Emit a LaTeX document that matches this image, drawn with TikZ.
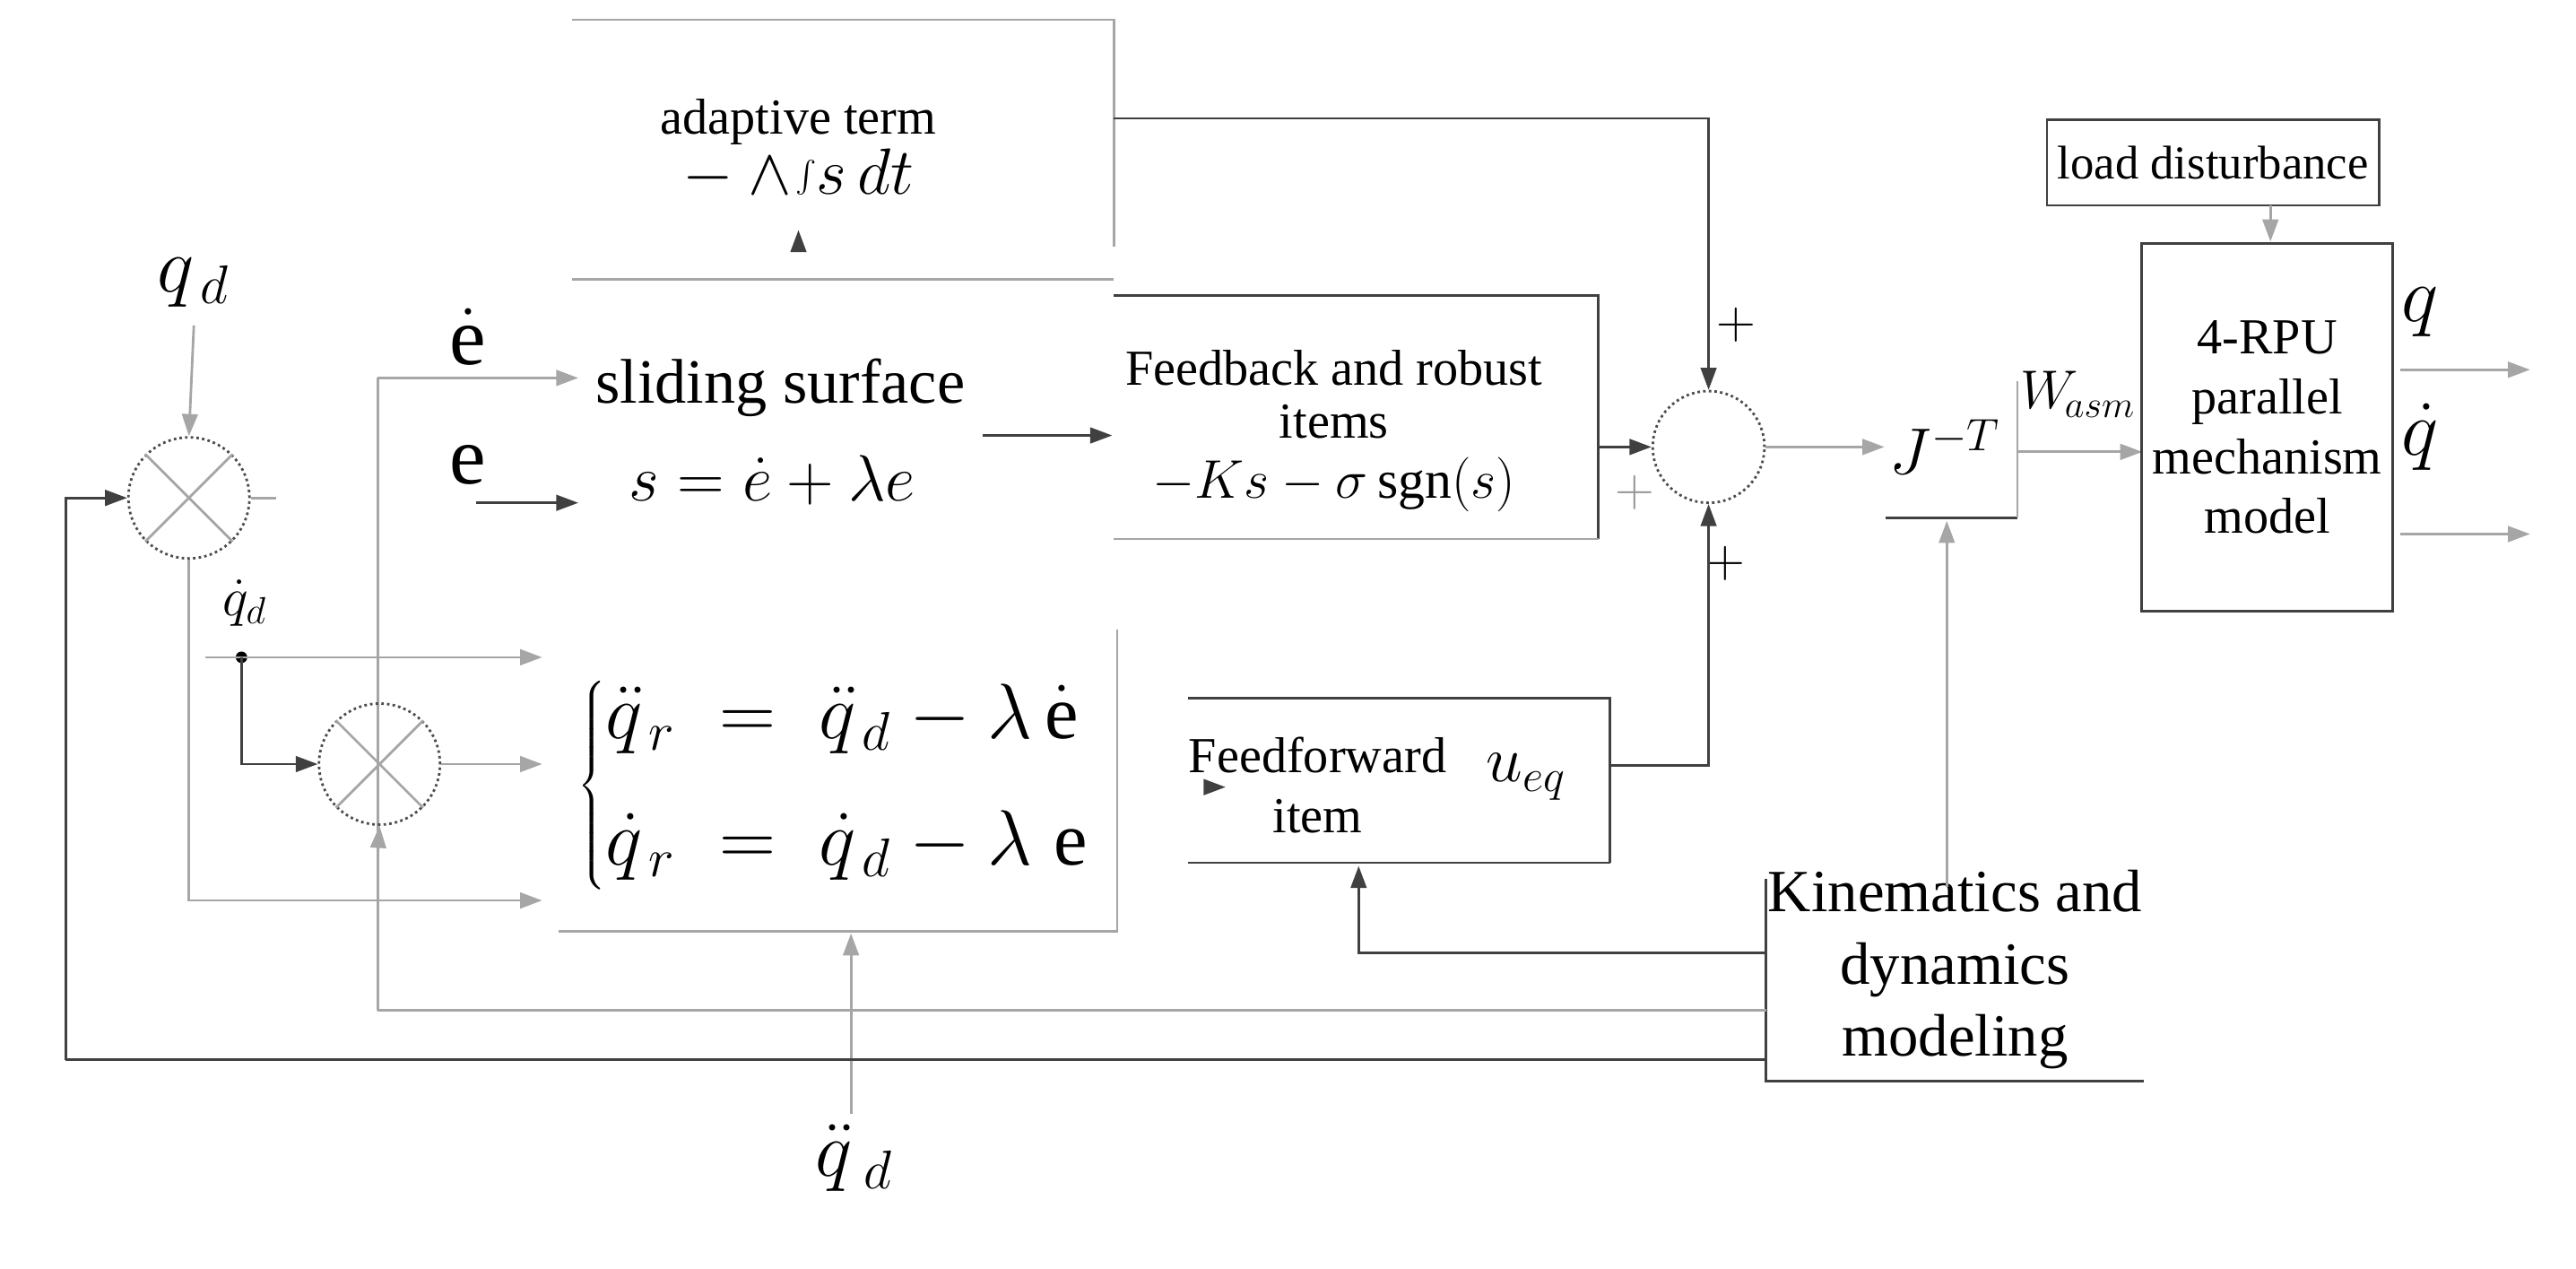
\documentclass[tikz,border=0pt]{standalone}
\usepackage{fontspec}
\setmainfont{Liberation Serif}
\usetikzlibrary{arrows.meta}
\begin{document}
\begin{tikzpicture}[x=0.01832cm,y=-0.01832cm,
  ln/.style={line width=0.8pt,black!75},
  fl/.style={line width=0.8pt,black!35},
  ar/.style={-{Triangle[length=7pt,width=5pt]}},
  bx/.style={draw=black!75,line width=0.8pt},
  sm/.style={draw=black!70,densely dotted,line width=0.8pt,circle,minimum size=1.35cm,inner sep=0pt},
  t16/.style={font=\fontsize{16}{19}\selectfont,align=center},
  t14/.style={font=\fontsize{15}{18}\selectfont,align=center},
  big/.style={font=\fontsize{26}{28}\selectfont}]
\useasboundingbox (0,0) rectangle (1568,772);
% ---- adaptive term
\draw[fl] (348,12) -- (678,12) -- (678,150);
\node[t16] (adt) at (486,74) {adaptive term};
\node[font=\fontsize{20}{22}\selectfont] (adf) at (486,106) {$-\wedge\!\textstyle\int\! s\,dt$};
\draw[ar,ln] (486,152) -- (486,140);
% ---- sliding surface
\draw[fl] (348,170) -- (678,170);
\node[font=\fontsize{20}{22}\selectfont] (sst) at (475,236) {sliding surface};
\node[font=\fontsize{22}{24}\selectfont] (sse) at (470,292) {$s=\dot e+\lambda e$};
% ---- feedback box
\draw[ln] (678,180) -- (973,180) -- (973,328);
\draw[fl] (678,328) -- (973,328);
\node[t16,font=\fontsize{16}{17}\selectfont] (fbt) at (812,240) {Feedback and robust\\items};
\node[font=\fontsize{17}{20}\selectfont] (fbf) at (812,295) {$-Ks-\sigma\,\mathrm{sgn}(s)$};
\draw[ar,ln] (598,265) -- (677,265);
% ---- upper sum
\node[sm] (c1) at (115,303) {};
\draw[fl] (c1.north east) -- (c1.south west) (c1.north west) -- (c1.south east);
\node[big] (qd1) at (118,172) {$q_{\,d}$};
\draw[ar,fl] (118,198) -- (c1.north);
\draw[ar,ln] (40,645) -- (40,303) -- (c1.west);
\draw[fl] (c1.east) -- (168,303);
% ---- e labels
\node[big] (ed) at (285,205) {$\dot{\mathrm e}$};
\node[big] (e) at (285,283) {$\mathrm e$};
\draw[ar,fl] (230,230) -- (352,230);
\draw[ar,ln] (290,306) -- (352,306);
\draw[fl] (230,230) -- (230,615);
% ---- qd dot / junction
\node[font=\fontsize{18}{20}\selectfont] (qdd) at (149,367) {$\dot q_d$};
\fill (147,400) circle (3.5);
\coordinate (j) at (147,400);
\draw[ar,fl] (125,400) -- (330,400);
% ---- lower sum
\node[sm] (c2) at (231,465) {};
\draw[fl] (c2.north east) -- (c2.south west) (c2.north west) -- (c2.south east);
\draw[ar,ln] (j) -- (147,465) -- (c2.west);
\draw[ar,fl] (230,520) -- (c2.south);
\draw[ar,fl] (c2.east) -- (330,465);
\draw[ar,fl] (c1.south) -- (115,548) -- (330,548);
% ---- equations
\draw[fl] (680,383) -- (680,567) -- (340,567);
\node[font=\fontsize{24}{26}\selectfont] (eqs) at (508,478) {$\left\{\begin{array}{@{}l@{}}\ddot q_{\,r}\;=\;\ddot q_{\,d}-\lambda\,\dot{\mathrm e}\\[14pt]\dot q_{\,r}\;=\;\dot q_{\,d}-\lambda\;\mathrm e\end{array}\right.$};
\node[big] (qddd) at (520,705) {$\ddot q_{\;d}$};
\draw[ar,fl] (518,678) -- (518,568);
% ---- main sum
\node[sm,minimum size=68*0.01832cm] (c3) at (1040,272) {};
\draw[ar,ln] (973,272) -- (c3.west);
\draw[ar,ln] (678,72) -- (1040,72) -- (c3.north);
\node[font=\fontsize{16}{18}\selectfont] at (1057,198) {$+$};
\node[font=\fontsize{16}{18}\selectfont,black!40] at (995,300) {$+$};
\node[font=\fontsize{16}{18}\selectfont] at (1050,343) {$+$};
% ---- feedforward
\draw[ln] (723,425) -- (980,425) -- (980,525);
\draw[ln] (723,525) -- (980,525);
\node[t16] (fft) at (802,478) {Feedforward\\item};
\node[font=\fontsize{20}{22}\selectfont] (ueq) at (929,473) {$u_{eq}$};
\draw[ar,ln] (736,479) -- (746,479);
\draw[ar,ln] (980,466) -- (1040,466) -- (c3.south);
% ---- J
\draw[ln] (1148,315) -- (1228,315);
\draw[fl] (1228,232) -- (1228,315);
\node[font=\fontsize{21}{24}\selectfont] (J) at (1184,272) {$J^{-T}$};
\draw[ar,fl] (c3.east) -- (1147,272);
\node[font=\fontsize{18}{22}\selectfont] (W) at (1265,240) {$W_{\!asm}$};
\draw[ar,fl] (1228,275) -- (1304,275);
% ---- model
\node[bx,minimum width=150*0.01832cm,minimum height=224*0.01832cm,t16,font=\fontsize{16}{19}\selectfont] (mod) at (1380,260) {4-RPU\\parallel\\mechanism\\model};
\node[bx,minimum width=175*0.01832cm,minimum height=52*0.01832cm,t14] (load) at (1347,99) {load disturbance};
\draw[ar,fl] (1382,125) -- (1382,147);
\node[big] (q) at (1473,190) {$q$};
\node[big] (qdt) at (1473,266) {$\dot q$};
\draw[ar,fl] (1461,225) -- (1540,225);
\draw[ar,fl] (1461,325) -- (1540,325);
% ---- kinematics
\draw[ln] (1075,535) -- (1075,658) -- (1305,658);
\node[t16,font=\fontsize{19}{23}\selectfont] (kin) at (1190,590) {Kinematics and\\dynamics\\modeling};
\draw[ar,fl] (1185,540) -- (1185,317);
\draw[ar,ln] (1075,580) -- (827,580) -- (827,527);
\draw[fl] (230,615) -- (1075,615);
\draw[ln] (40,645) -- (1075,645);
\end{tikzpicture}
\end{document}
